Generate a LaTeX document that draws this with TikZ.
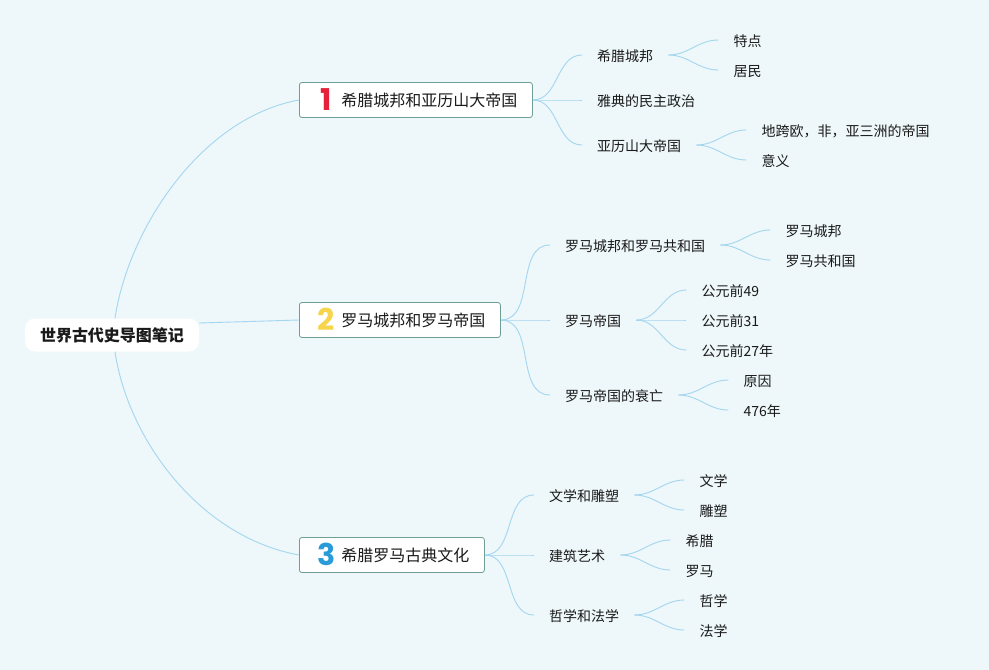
\documentclass[tikz,border=0pt]{standalone}
\usepackage{fontspec}
\setmainfont{Noto Sans CJK SC}
\newfontfamily\numfont{Poppins}
\usetikzlibrary{calc}
\definecolor{bgc}{HTML}{EEF7FA}
\definecolor{linkc}{HTML}{A3D6EF}
\definecolor{boxline}{HTML}{6E9E96}
\definecolor{nred}{HTML}{E5213B}
\definecolor{nyellow}{HTML}{F6D44C}
\definecolor{nblue}{HTML}{2A9BD9}
\definecolor{ink}{HTML}{1A1A1A}
\newcommand\mmnum[2]{\makebox[42pt]{\hspace{12pt}\raisebox{-4.5pt}{\numfont\fontsize{30}{30}\selectfont\bfseries\textcolor{#1}{#2}}}}
\begin{document}
\begin{tikzpicture}[x=1pt,y=-1pt,
  conn/.style={draw=linkc, line width=0.9pt},
  rootbox/.style={fill=white, rounded corners=10pt, inner xsep=15pt, inner ysep=0pt, minimum height=33pt, font=\fontsize{16}{16}\selectfont\bfseries, text=ink, text height=14pt, text depth=2pt},
  mainbox/.style={draw=boxline, fill=white, rounded corners=2.5pt, line width=0.8pt, inner xsep=0pt, inner ysep=0pt, minimum height=35pt, anchor=west, font=\fontsize{16}{16}\selectfont, text=ink, text height=14pt, text depth=2pt},
  topic/.style={anchor=west, inner xsep=15pt, inner ysep=0pt, font=\fontsize{14}{14}\selectfont, text=ink, text height=13pt, text depth=0pt},
]
\fill[bgc] (0,0) rectangle (989,670);
\useasboundingbox (0,0) rectangle (989,670);

% root and main boxes
\node[rootbox] (root) at (112,335) {世界古代史导图笔记};
\node[mainbox] (b1) at (299,100) {\mmnum{nred}{1}希腊城邦和亚历山大帝国\kern15pt};
\node[mainbox] (b2) at (299,320) {\mmnum{nyellow}{2}罗马城邦和罗马帝国\kern15pt};
\node[mainbox] (b3) at (299,555) {\mmnum{nblue}{3}希腊罗马古典文化\kern15pt};

\draw[conn] ([xshift=3pt]root.north) .. controls +(13,-88) and +(-99,18) .. (b1.west);
\draw[conn] ([yshift=12pt]root.east) -- (b2.west);
\draw[conn] ([xshift=3pt]root.south) .. controls +(13,88) and +(-99,-18) .. (b3.west);

% branch 1
\node[topic] (a1) at (582,55) {希腊城邦};
\node[topic] (a2) at (582,100) {雅典的民主政治};
\node[topic] (a3) at (582,145) {亚历山大帝国};
\node[topic] (a11) at ($(a1.east)+(50,-15)$) {特点};
\node[topic] (a12) at ($(a1.east)+(50,15)$) {居民};
\node[topic] (a31) at ($(a3.east)+(50,-15)$) {地跨欧，非，亚三洲的帝国};
\node[topic] (a32) at ($(a3.east)+(50,15)$) {意义};
\foreach \t in {a1,a2,a3} \draw[conn] (b1.east) to[out=0,in=180] (\t.west);
\foreach \t in {a11,a12} \draw[conn] (a1.east) to[out=0,in=180] (\t.west);
\foreach \t in {a31,a32} \draw[conn] (a3.east) to[out=0,in=180] (\t.west);

% branch 2
\node[topic] (c1) at (550,245) {罗马城邦和罗马共和国};
\node[topic] (c2) at (550,320) {罗马帝国};
\node[topic] (c3) at (550,395) {罗马帝国的衰亡};
\node[topic] (c11) at ($(c1.east)+(50,-15)$) {罗马城邦};
\node[topic] (c12) at ($(c1.east)+(50,15)$) {罗马共和国};
\node[topic] (c21) at ($(c2.east)+(50,-30)$) {公元前49};
\node[topic] (c22) at ($(c2.east)+(50,0)$) {公元前31};
\node[topic] (c23) at ($(c2.east)+(50,30)$) {公元前27年};
\node[topic] (c31) at ($(c3.east)+(50,-15)$) {原因};
\node[topic] (c32) at ($(c3.east)+(50,15)$) {476年};
\foreach \t in {c1,c2,c3} \draw[conn] (b2.east) to[out=0,in=180] (\t.west);
\foreach \t in {c11,c12} \draw[conn] (c1.east) to[out=0,in=180] (\t.west);
\foreach \t in {c21,c22,c23} \draw[conn] (c2.east) to[out=0,in=180] (\t.west);
\foreach \t in {c31,c32} \draw[conn] (c3.east) to[out=0,in=180] (\t.west);

% branch 3
\node[topic] (d1) at (534,495) {文学和雕塑};
\node[topic] (d2) at (534,555) {建筑艺术};
\node[topic] (d3) at (534,615) {哲学和法学};
\node[topic] (d11) at ($(d1.east)+(50,-15)$) {文学};
\node[topic] (d12) at ($(d1.east)+(50,15)$) {雕塑};
\node[topic] (d21) at ($(d2.east)+(50,-15)$) {希腊};
\node[topic] (d22) at ($(d2.east)+(50,15)$) {罗马};
\node[topic] (d31) at ($(d3.east)+(50,-15)$) {哲学};
\node[topic] (d32) at ($(d3.east)+(50,15)$) {法学};
\foreach \t in {d1,d2,d3} \draw[conn] (b3.east) to[out=0,in=180] (\t.west);
\foreach \t in {d11,d12} \draw[conn] (d1.east) to[out=0,in=180] (\t.west);
\foreach \t in {d21,d22} \draw[conn] (d2.east) to[out=0,in=180] (\t.west);
\foreach \t in {d31,d32} \draw[conn] (d3.east) to[out=0,in=180] (\t.west);
\end{tikzpicture}
\end{document}
